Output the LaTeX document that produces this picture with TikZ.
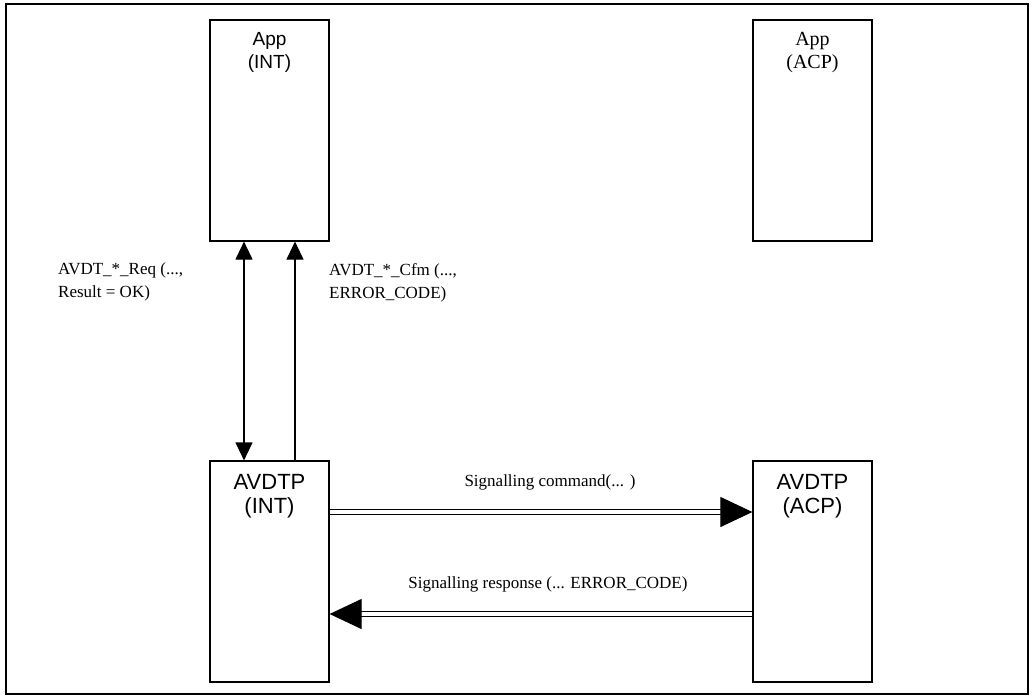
\documentclass[tikz,border=0pt]{standalone}
\usepackage{fontspec}
\setmainfont{Liberation Serif}
\newfontfamily\arialf{Liberation Sans}
\usetikzlibrary{arrows.meta,calc}
\tikzset{
  boxnode/.style={draw, line width=1.2pt, rectangle, inner sep=0pt, minimum width=119pt, minimum height=221pt},
  boxtxt/.style={inner sep=0pt, align=center},
  apptxt/.style={boxtxt, font=\arialf\fontsize{19}{22.5}\selectfont},
  apptxtserif/.style={boxtxt, font=\fontsize{20}{22.5}\selectfont},
  avtxt/.style={boxtxt, font=\arialf\fontsize{22}{23.5}\selectfont},
  msgtxt/.style={inner sep=0pt, align=left, font=\fontsize{17}{23}\selectfont},
  vline/.style={line width=1.2pt},
  vtip/.style={-{Triangle[length=18pt,width=17pt]}},
  sig/.style={double, double distance=3.2pt, line width=1.1pt, -{Triangle[length=32pt,width=30pt]}}
}
\begin{document}
\begin{tikzpicture}[x=1pt,y=-1pt]
\useasboundingbox (0,0) rectangle (1033,698);
\draw[line width=1.2pt] (6,4) rectangle (1028,694);
% boxes
\node[boxnode] (appint) at (269.5,130.5) {};
\node[boxnode] (appacp) at (812.5,130.5) {};
\node[boxnode] (avint) at (269.5,571.5) {};
\node[boxnode] (avacp) at (812.5,571.5) {};
\node[apptxt] (appintT) at ($(appint.north)+(0,33)$) {App\\(INT)};
\node[apptxtserif] (appacpT) at ($(appacp.north)+(0,33)$) {App\\(ACP)};
\node[avtxt] (avintT) at ($(avint.north)+(0,36)$) {AVDTP\\(INT)};
\node[avtxt] (avacpT) at ($(avacp.north)+(0,36)$) {AVDTP\\(ACP)};
% vertical arrows
\coordinate (reqtop) at (244,0);
\coordinate (cfmx) at (295,0);
\draw[vline, {Triangle[length=18pt,width=17pt]}-{Triangle[length=18pt,width=17pt]}]
  (appint.south -| reqtop) -- (avint.north -| reqtop);
\draw[vline, vtip] (avint.north -| cfmx) -- (appint.south -| cfmx);
\node[msgtxt, anchor=north west] (req) at (58,263) {AVDT\_*\_Req (...,\\Result = OK)};
\node[msgtxt, anchor=north west] (cfm) at (329,263) {AVDT\_*\_Cfm (...,\\ERROR\_CODE)};
% signalling
\coordinate (cmdy) at (0,512);
\coordinate (rspy) at (0,614);
\draw[sig] (avint.east |- cmdy) -- node[msgtxt, yshift=30pt, xshift=9pt] {Signalling command(... )} (avacp.west |- cmdy);
\draw[sig] (avacp.west |- rspy) -- node[msgtxt, yshift=30pt, xshift=7pt] {Signalling response (... ERROR\_CODE)} (avint.east |- rspy);
\end{tikzpicture}
\end{document}
